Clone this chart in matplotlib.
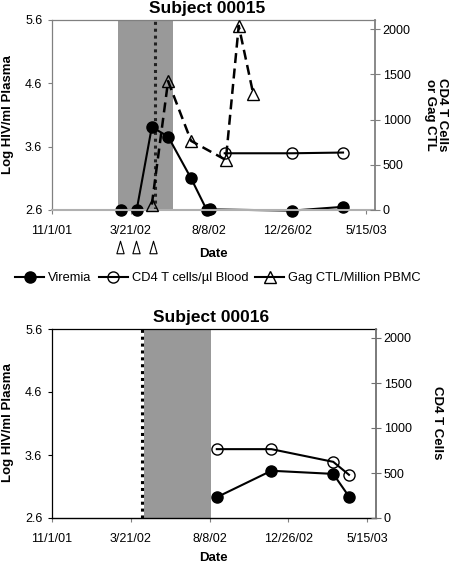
import matplotlib
matplotlib.use('Agg')
import matplotlib.pyplot as plt
import matplotlib.transforms as mtransforms
from matplotlib.path import Path
from matplotlib.lines import Line2D
import pandas as pd

plt.rcParams['font.family'] = ['Liberation Sans', 'DejaVu Sans']

# ---- data: Subject 00015 ----
vir15_dates = ['2002-03-04', '2002-04-01', '2002-04-28', '2002-05-27', '2002-07-07',
               '2002-08-04', '2002-08-10', '2003-01-03', '2003-04-04']
vir15 = [2.6, 2.6, 3.91, 3.76, 3.1, 2.6, 2.61, 2.59, 2.65]
cd4_15_dates = ['2002-09-05', '2003-01-03', '2003-04-04']
cd4_15 = [627, 627, 635]
ctl15_dates = ['2002-04-28', '2002-05-27', '2002-07-07', '2002-09-07', '2002-09-30', '2002-10-26']
ctl15 = [60, 1424, 764, 553, 2036, 1280]
dose15_dates = ['2002-03-02', '2002-03-31', '2002-04-30']
shade15 = ['2002-02-27', '2002-06-05']
dotted15 = '2002-05-04'

# ---- data: Subject 00016 ----
vir16_dates = ['2002-08-21', '2002-11-26', '2003-03-16', '2003-04-13']
vir16 = [2.93, 3.35, 3.30, 2.94]
cd4_16_dates = ['2002-08-21', '2002-11-26', '2003-03-16', '2003-04-13']
cd4_16 = [765, 765, 624, 480]
shade16 = ['2002-04-13', '2002-08-11']
dotted16 = '2002-04-10'

tick_dates = ['2001-11-01', '2002-03-21', '2002-08-08', '2002-12-26', '2003-05-15']
tick_labels = ['11/1/01', '3/21/02', '8/8/02', '12/26/02', '5/15/03']
xlim = ['2001-11-01', '2003-05-31']
left_ticks = [2.6, 3.6, 4.6, 5.6]
right_ticks = [0, 500, 1000, 1500, 2000]

D = pd.to_datetime
W, H = 450, 565
fig = plt.figure(figsize=(W / 100, H / 100), dpi=100)


def rect(x0, y0, x1, y1):
    return [x0 / W, 1 - y1 / H, (x1 - x0) / W, (y1 - y0) / H]


def panel(r, frame_col, bottom_col, right_col):
    ax = fig.add_axes(r)
    ax2 = ax.twinx()
    ax.set_xlim(D(xlim[0]), D(xlim[1]))
    ax.set_ylim(2.6, 5.6)
    ax2.set_ylim(0, 2100)
    ax.set_xticks(D(tick_dates))
    ax.set_xticklabels(tick_labels)
    ax.set_yticks(left_ticks)
    ax.set_yticklabels([f'{v:.1f}' for v in left_ticks])
    ax2.set_yticks(right_ticks)
    for s in ['left', 'top']:
        ax.spines[s].set_color(frame_col)
        ax.spines[s].set_linewidth(0.9)
    ax.spines['bottom'].set_color(bottom_col)
    ax.spines['bottom'].set_linewidth(1.5 if bottom_col != 'black' else 1.0)
    ax.spines['right'].set_visible(False)
    for s in ['left', 'top', 'bottom']:
        ax2.spines[s].set_visible(False)
    ax2.spines['right'].set_color(right_col)
    ax2.spines['right'].set_linewidth(1.3)
    ax.tick_params(axis='y', direction='out', length=3, width=0.8, color=frame_col,
                   labelsize=9, pad=4)
    ax.tick_params(axis='x', direction='out', length=3, width=0.8, color='gray',
                   labelsize=9, pad=8)
    ax2.tick_params(axis='y', direction='inout', length=7, width=0.8, color=right_col,
                    labelsize=9, pad=2)
    return ax, ax2


line_kw = dict(color='black', lw=1.5, clip_on=False)
dots = (0, (1, 1.25))

# ---------------- Subject 00015 ----------------
ax, ax2 = panel(rect(52, 20, 375, 210), '#808080', '#b0b0b0', '#808080')
ax.axvspan(D(shade15[0]), D(shade15[1]), color='#999999', lw=0, zorder=0)
ax.axvline(D(dotted15), color='#222222', lw=2.2, ls=dots, zorder=1)
ax.plot(D(vir15_dates), vir15, marker='o', ms=8, mfc='black', mec='black', **line_kw)
ax2.plot(D(cd4_15_dates), cd4_15, marker='o', ms=8, mfc='none', mec='black', mew=1, **line_kw)
ax2.plot(D(ctl15_dates), ctl15, marker='^', ms=9, mfc='none', mec='black', mew=1,
         color='black', lw=1.8, ls=(0, (4, 2.2)), clip_on=False)

# dosing markers below the date axis
tall_tri = Path([(-0.29, -0.5), (0.29, -0.5), (0, 0.5), (-0.29, -0.5)],
                [Path.MOVETO, Path.LINETO, Path.LINETO, Path.CLOSEPOLY])
trans = mtransforms.blended_transform_factory(ax.transData, ax.transAxes)
ax.plot(D(dose15_dates), [-0.197] * len(dose15_dates), transform=trans, ls='none',
        marker=tall_tri, ms=9, mfc='white', mec='black', mew=0.8, clip_on=False)

fig.text(207.5 / W, 1 - 8 / H, 'Subject 00015', ha='center', va='center',
         fontsize=12.5, fontweight='bold')
fig.text(8 / W, 1 - 115 / H, 'Log HIV/ml Plasma', rotation=90, ha='center', va='center',
         fontsize=9.5, fontweight='bold')
fig.text(436 / W, 1 - 115 / H, 'CD4 T Cells\nor Gag CTL', rotation=270, ha='center',
         va='center', fontsize=9.5, fontweight='bold', linespacing=1.05)
fig.text(213 / W, 1 - 254 / H, 'Date', ha='center', va='center', fontsize=9.5,
         fontweight='bold')

handles = [
    Line2D([], [], color='black', lw=1.5, marker='o', ms=8, mfc='black', mec='black'),
    Line2D([], [], color='black', lw=1.5, marker='o', ms=8, mfc='none', mec='black'),
    Line2D([], [], color='black', lw=1.5, marker='^', ms=9, mfc='none', mec='black'),
]
fig.legend(handles, ['Viremia', 'CD4 T cells/\u00b5l Blood', 'Gag CTL/Million PBMC'],
           loc='center', bbox_to_anchor=(218 / W, 1 - 278 / H), ncol=3, frameon=False,
           fontsize=9.3, handlelength=2.25, handletextpad=0.3, columnspacing=0.55,
           numpoints=1)

# ---------------- Subject 00016 ----------------
bx, bx2 = panel(rect(52, 329, 376, 518), 'black', 'black', '#707070')
bx.axvspan(D(shade16[0]), D(shade16[1]), color='#999999', lw=0, zorder=0)
bx.axvline(D(dotted16), color='black', lw=2.2, ls=dots, zorder=1)
bx.plot(D(vir16_dates), vir16, marker='o', ms=8, mfc='black', mec='black', **line_kw)
bx2.plot(D(cd4_16_dates), cd4_16, marker='o', ms=8, mfc='none', mec='black', mew=1, **line_kw)

fig.text(211.5 / W, 1 - 317.5 / H, 'Subject 00016', ha='center', va='center',
         fontsize=12.5, fontweight='bold')
fig.text(8 / W, 1 - 423 / H, 'Log HIV/ml Plasma', rotation=90, ha='center', va='center',
         fontsize=9.5, fontweight='bold')
fig.text(437 / W, 1 - 423 / H, 'CD4 T Cells', rotation=270, ha='center', va='center',
         fontsize=9.5, fontweight='bold')
fig.text(213 / W, 1 - 558 / H, 'Date', ha='center', va='center', fontsize=9.5,
         fontweight='bold')

fig.savefig('out.png', dpi=100)
